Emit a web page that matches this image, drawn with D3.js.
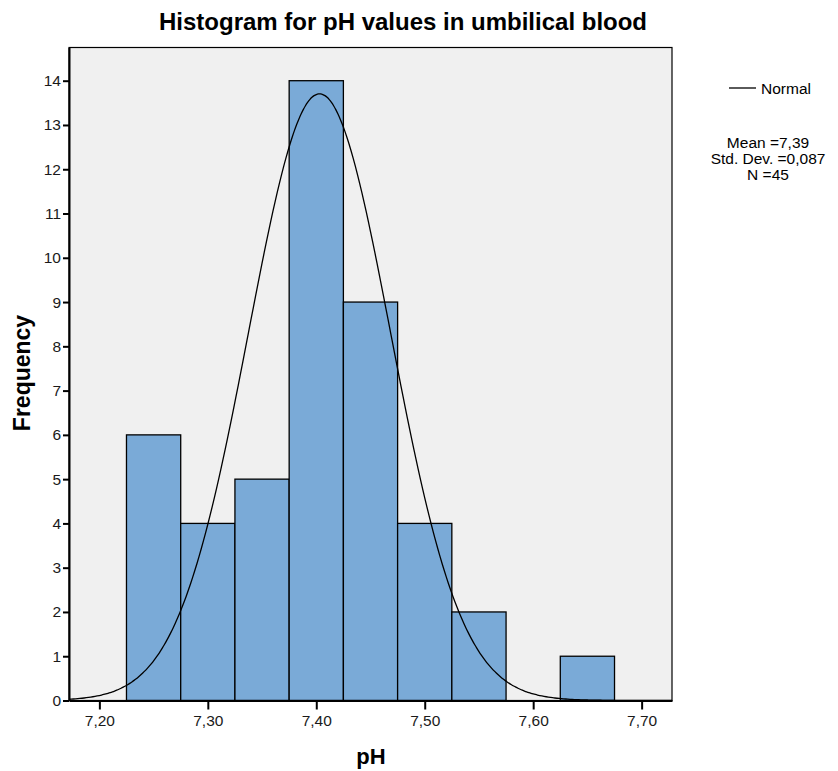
<!DOCTYPE html>
<html>
<head>
<meta charset="utf-8">
<script src="https://cdn.jsdelivr.net/npm/d3@7"></script>
<style>
  body { margin: 0; background: #fff; }
  text { font-family: "Liberation Sans", Arial, sans-serif; }
</style>
</head>
<body>
<div id="chart"></div>
<script>
// bin centres (pH) and counts
const binCenters = [7.25, 7.30, 7.35, 7.40, 7.45, 7.50, 7.55, 7.60, 7.65];
const binCounts  = [6, 4, 5, 14, 9, 4, 2, 0, 1];
const binWidth = 0.05;
const xTicks = [7.20, 7.30, 7.40, 7.50, 7.60, 7.70];
const yTicks = [0, 1, 2, 3, 4, 5, 6, 7, 8, 9, 10, 11, 12, 13, 14];
const statLines = ["Mean =7,39", "Std. Dev. =0,087", "N =45"];
// normal curve as it is drawn in the picture
const curveMean = 7.403;
const curveSd = 0.0655;
const curveN = 45;

const W = 838, H = 771;
const margin = { top: 47.5, right: 166, bottom: 70.5, left: 69 };
const width = W - margin.left - margin.right;
const height = H - margin.top - margin.bottom;

const svg = d3.select("#chart").append("svg")
    .attr("width", W).attr("height", H);

const x = d3.scaleLinear().domain([7.172, 7.728]).range([0, width]);
const y = d3.scaleLinear().domain([0, 14.75]).range([height, 0]);

const g = svg.append("g")
    .attr("transform", "translate(" + margin.left + "," + margin.top + ")");

// plot background
g.append("rect")
    .attr("width", width).attr("height", height)
    .attr("fill", "#f0f0f0");

// bars
const bins = binCenters.map((c, i) => ({ c: c, n: binCounts[i] })).filter(d => d.n > 0);
g.selectAll(".bar").data(bins).enter().append("rect")
    .attr("class", "bar")
    .attr("x", d => x(d.c - binWidth / 2))
    .attr("y", d => y(d.n))
    .attr("width", d => x(d.c + binWidth / 2) - x(d.c - binWidth / 2))
    .attr("height", d => y(0) - y(d.n))
    .attr("fill", "#7aaad7")
    .attr("stroke", "#000")
    .attr("stroke-width", 1.3);

// normal curve scaled to counts
const scale = curveN * binWidth / (curveSd * Math.sqrt(2 * Math.PI));
const xs = d3.range(x.domain()[0], x.domain()[1] + 1e-9, 0.002);
const line = d3.line()
    .x(v => x(v))
    .y(v => y(scale * Math.exp(-((v - curveMean) ** 2) / (2 * curveSd * curveSd))))
    .curve(d3.curveBasis);
g.append("path").datum(xs)
    .attr("d", line)
    .attr("fill", "none")
    .attr("stroke", "#000")
    .attr("stroke-width", 1.3);

// frame
g.append("rect")
    .attr("width", width).attr("height", height)
    .attr("fill", "none").attr("stroke", "#000").attr("stroke-width", 1.2);

// axes
const yAxis = g.append("g")
    .call(d3.axisLeft(y).tickValues(yTicks).tickSize(6).tickSizeOuter(0)
        .tickPadding(2).tickFormat(d3.format("d")));
const xAxis = g.append("g")
    .attr("transform", "translate(0," + height + ")")
    .call(d3.axisBottom(x).tickValues(xTicks).tickSize(9).tickSizeOuter(0).tickPadding(5)
        .tickFormat(d => d3.format(".2f")(d).replace(".", ",")));
[xAxis, yAxis].forEach(a => {
    a.select(".domain").attr("stroke-width", 2);
    a.selectAll(".tick line").attr("stroke-width", 2);
    a.selectAll("text").attr("font-size", 15.5).attr("fill", "#1a1a1a")
        .style("font-family", "Liberation Sans, Arial, sans-serif");
});

// title and axis titles
svg.append("text")
    .attr("x", 403).attr("y", 30)
    .attr("text-anchor", "middle")
    .attr("font-size", 24).attr("font-weight", "bold")
    .text("Histogram for pH values in umbilical blood");

svg.append("text")
    .attr("x", 371).attr("y", 764)
    .attr("text-anchor", "middle")
    .attr("font-size", 22).attr("font-weight", "bold")
    .text("pH");

svg.append("text")
    .attr("transform", "translate(30," + 373 + ") rotate(-90)")
    .attr("text-anchor", "middle")
    .attr("font-size", 23).attr("font-weight", "bold")
    .text("Frequency");

// legend
svg.append("line")
    .attr("x1", 729).attr("x2", 756).attr("y1", 88).attr("y2", 88)
    .attr("stroke", "#000").attr("stroke-width", 1.3);
svg.append("text")
    .attr("x", 761).attr("y", 93.5)
    .attr("font-size", 15.5)
    .text("Normal");

svg.selectAll(".stat").data(statLines).enter().append("text")
    .attr("class", "stat")
    .attr("x", 768).attr("y", (d, i) => 147.5 + i * 16)
    .attr("text-anchor", "middle")
    .attr("font-size", 15.5)
    .text(d => d);
</script>
</body>
</html>
